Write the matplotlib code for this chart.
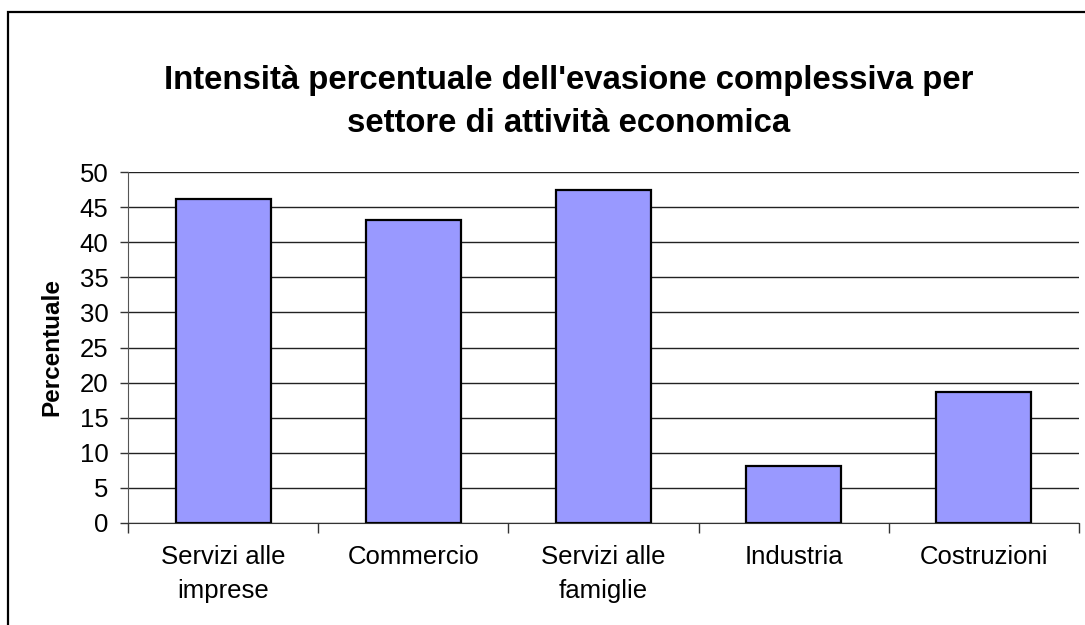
import matplotlib.pyplot as plt
from matplotlib.patches import Rectangle

# sectors and evasion intensity (%)
settori = ["Servizi alle\nimprese", "Commercio", "Servizi alle\nfamiglie", "Industria", "Costruzioni"]
intensita = [46.2, 43.2, 47.5, 8.1, 18.6]
y_ticks = [0, 5, 10, 15, 20, 25, 30, 35, 40, 45, 50]

plt.rcParams['font.family'] = ['Liberation Sans', 'DejaVu Sans']

fig = plt.figure(figsize=(10.85, 6.25), dpi=100)
ax = fig.add_axes([128 / 1085, 1 - 523 / 625, (1079 - 128) / 1085, (523 - 172) / 625])

x = range(len(settori))
ax.bar(x, intensita, width=0.5, color='#9999FF', edgecolor='black', linewidth=1.6, zorder=3)

ax.set_xlim(-0.5, len(settori) - 0.5)
ax.set_ylim(0, 50)
ax.set_yticks(y_ticks)
ax.set_yticklabels([str(v) for v in y_ticks], fontsize=18.5)
ax.yaxis.grid(True, color='#222222', linewidth=1)
ax.set_axisbelow(True)

ax.set_xticks(list(x))
ax.set_xticklabels(settori, fontsize=18.5, linespacing=1.5)
ax.tick_params(axis='x', which='major', length=0, pad=16)
ax.set_xticks([i - 0.5 for i in range(len(settori) + 1)], minor=True)
ax.tick_params(axis='x', which='minor', length=7, width=1, color='#333333')
ax.tick_params(axis='y', length=6, width=1, color='#333333', pad=8)

for side in ['top', 'right']:
    ax.spines[side].set_visible(False)
ax.spines['left'].set_color('#555555')
ax.spines['bottom'].set_color('#333333')

ax.set_ylabel("Percentuale", fontsize=17.5, fontweight='bold', labelpad=12)

fig.text(569 / 1085, 1 - 80 / 625, "Intensità percentuale dell'evasione complessiva per",
         ha='center', va='center', fontsize=23.7, fontweight='bold')
fig.text(569 / 1085, 1 - 124 / 625, "settore di attività economica",
         ha='center', va='center', fontsize=23.7, fontweight='bold')

# outer chart frame
fig.patches.append(Rectangle((8 / 1085, -0.05), 1.2, 1 - 12 / 625 + 0.05,
                             transform=fig.transFigure, fill=False,
                             edgecolor='black', linewidth=1.6))

fig.savefig('out.png', dpi=100)
